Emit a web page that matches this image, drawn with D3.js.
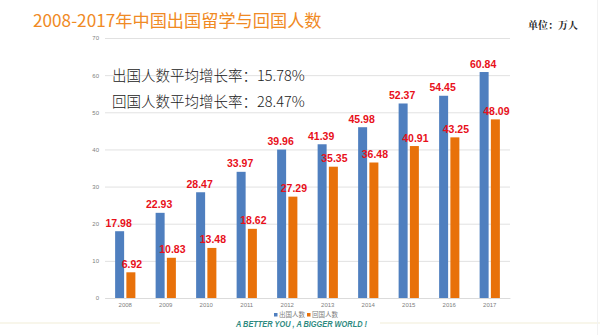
<!DOCTYPE html>
<html><head><meta charset="utf-8">
<script src="https://cdn.jsdelivr.net/npm/d3@7"></script>
<style>
html,body{margin:0;padding:0;background:#fff;}
svg{display:block;}
</style></head>
<body>
<svg id="c" width="600" height="335"></svg>
<script>
const years = ["2008","2009","2010","2011","2012","2013","2014","2015","2016","2017"];
const outbound = [17.98,22.93,28.47,33.97,39.96,41.39,45.98,52.37,54.45,60.84];
const returned = [6.92,10.83,13.48,18.62,27.29,35.35,36.48,40.91,43.25,48.09];
const seriesNames = ["出国人数","回国人数"];
const yTicks = [0,10,20,30,40,50,60,70];
const title = "2008-2017年中国出国留学与回国人数";
const unitText = "单位：万人";
const notes = ["出国人数平均增长率：15.78%","回国人数平均增长率：28.47%"];
const slogan = "A BETTER YOU , A BIGGER WORLD !";

const colors = ["#4f7fbf","#e8710a"];
const svg = d3.select("#c");
const cjk = "'Noto Sans CJK SC','Noto Sans',sans-serif";

const x = d3.scaleBand().domain(years).range([105,510]).paddingInner(0.5).paddingOuter(0.25);
const xi = d3.scaleBand().domain(seriesNames).range([0,x.bandwidth()]).paddingInner(0.2);
const y = d3.scaleLinear().domain([0,70]).range([298,38]);

// faint decorative lines
svg.append("line").attr("x1",0).attr("x2",160).attr("y1",323).attr("y2",323).attr("stroke","#f6f3e4").attr("stroke-width",1.5);
svg.append("line").attr("x1",380).attr("x2",600).attr("y1",323).attr("y2",323).attr("stroke","#f6f3e4").attr("stroke-width",1.5);
svg.append("line").attr("x1",597.5).attr("x2",597.5).attr("y1",0).attr("y2",335).attr("stroke","#f2f2f2").attr("stroke-width",1);

// title
svg.append("text").attr("x",33).attr("y",27).attr("font-family",cjk).attr("font-size",17.2)
  .attr("fill","#f08a24").text(title);
svg.append("text").attr("x",528).attr("y",29).attr("font-family","'Noto Serif CJK SC','Noto Sans CJK SC',serif")
  .attr("font-size",10).attr("font-weight","bold").attr("fill","#222").text(unitText);

// grid
const yAxis = d3.axisLeft(y).tickValues(yTicks).tickSize(-(510-105)).tickPadding(6);
const gy = svg.append("g").attr("transform","translate(105,0)").call(yAxis);
gy.select(".domain").remove();
gy.selectAll(".tick line").attr("stroke","#d9d9d9").attr("stroke-width",0.8);
gy.selectAll(".tick text").attr("fill","#808080").attr("font-size",6).attr("font-family","'Liberation Sans',sans-serif");

// x axis
const gx = svg.append("g").attr("transform","translate(0,298)").call(d3.axisBottom(x).tickSize(0).tickPadding(5));
gx.select(".domain").attr("stroke","#d9d9d9").attr("stroke-width",0.8);
gx.selectAll(".tick text").attr("fill","#808080").attr("font-size",6).attr("font-family","'Liberation Sans',sans-serif");

// bars
const data = [outbound, returned];
data.forEach((vals,si)=>{
  const g = svg.append("g");
  g.selectAll("rect").data(vals).join("rect")
    .attr("x",(d,i)=>x(years[i])+xi(seriesNames[si]))
    .attr("width",xi.bandwidth())
    .attr("y",d=>y(d)).attr("height",d=>y(0)-y(d))
    .attr("fill",colors[si]);
});
data.forEach((vals,si)=>{
  svg.append("g").selectAll("text").data(vals).join("text")
    .attr("x",(d,i)=>x(years[i])+xi(seriesNames[si])+xi.bandwidth()/2 + (si===0?-1:1))
    .attr("y",d=>y(d)-4.5)
    .attr("text-anchor","middle")
    .attr("font-family","'Liberation Sans',Arial,sans-serif")
    .attr("font-weight","bold").attr("font-size",10.5)
    .attr("fill","#e8101a")
    .text(d=>d.toFixed(2));
});

// notes
notes.forEach((t,i)=>{
  svg.append("text").attr("x",112).attr("y",81+i*26).attr("font-family",cjk)
    .attr("font-size",14.5).attr("font-weight",300).attr("fill","#222").text(t);
});

// legend
const lg = svg.append("g").attr("transform","translate(274,317)");
seriesNames.forEach((n,i)=>{
  const gg = lg.append("g").attr("transform",`translate(${i*33},0)`);
  gg.append("rect").attr("x",0).attr("y",-4).attr("width",3.5).attr("height",3.5).attr("fill",colors[i]);
  gg.append("text").attr("x",5).attr("y",0).attr("font-family",cjk).attr("font-size",6.5).attr("fill","#808080").text(n);
});

// slogan
svg.append("text").attr("x",236).attr("y",327).attr("font-family","'Liberation Sans',Arial,sans-serif")
  .attr("font-size",8.5).attr("font-weight","bold").attr("font-style","italic")
  .attr("fill","#2d8a80").attr("textLength",131).attr("lengthAdjust","spacingAndGlyphs").text(slogan);
</script>
</body></html>
